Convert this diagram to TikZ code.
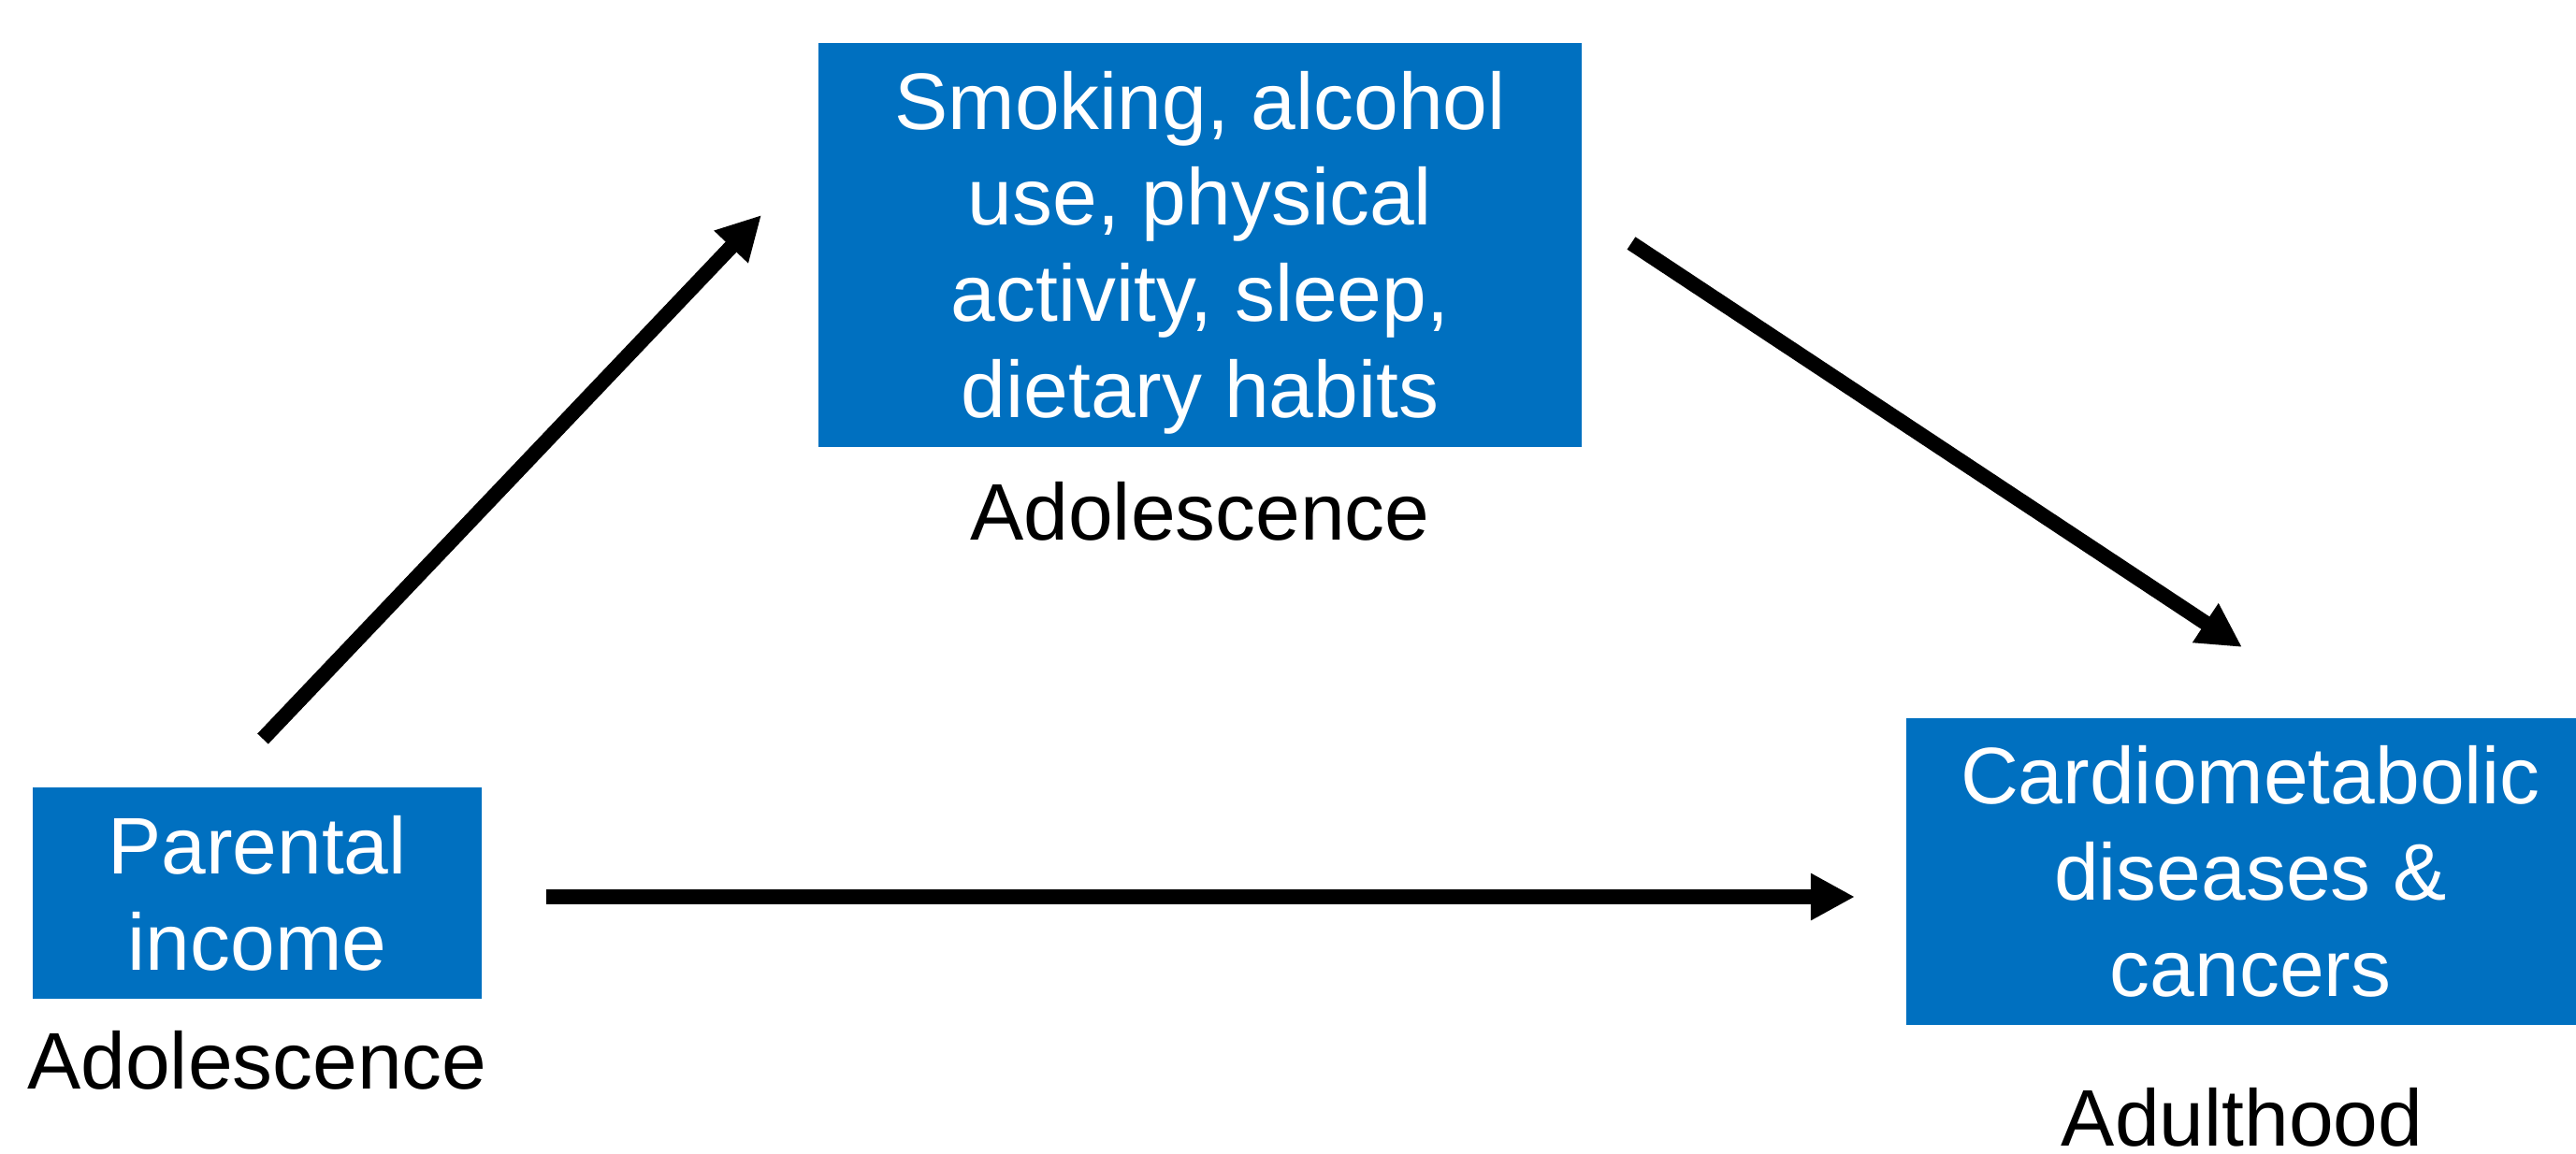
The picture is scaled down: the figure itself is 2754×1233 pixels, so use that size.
\documentclass[tikz,border=0pt]{standalone}
\usepackage{fontspec}
\setmainfont{Liberation Sans}
\usetikzlibrary{arrows.meta,positioning}
\definecolor{boxblue}{RGB}{0,112,192}

\begin{document}
\begin{tikzpicture}[x=0.01cm, y=-0.01cm,
txt/.style={font=\fontsize{24.4}{29.2}\selectfont, inner sep=0pt, align=center},
box/.style={txt, fill=boxblue, text=white},
link/.style={line width=0.16cm, -{Triangle[length=0.47cm, width=0.47cm]}}]
\useasboundingbox (0,0) rectangle (2754,1233);

\node [box, minimum width=4.80cm, minimum height=2.25cm] (income) at (275,955) {Parental\\income};
\node [box, minimum width=8.16cm, minimum height=4.31cm] (behav) at (1283,262) {\rule{0pt}{0.78cm}Smoking, alcohol\\use, physical\\activity, sleep,\\dietary habits};
\node [box, minimum width=7.36cm, minimum height=3.28cm] (cvd) at (2406,932) {Cardiometabolic\\diseases \&\\cancers};

\node [txt] (incomeage) [below=0.33cm of income] {Adolescence};
\node [txt] (behavage) [below=0.36cm of behav] {Adolescence};
\node [txt, xshift=-0.09cm] (cvdage) [below=0.66cm of cvd] {Adulthood};

\coordinate (s1) at (281,790);
\coordinate (t1) at (814,230);
\coordinate (s2) at (1744,260);
\coordinate (t2) at (2397,692);
\coordinate (s3) at (584,959);
\coordinate (t3) at (1983,959);

\draw [link] (s1) -- (t1);
\draw [link] (s2) -- (t2);
\draw [link] (s3) -- (t3);

\end{tikzpicture}
\end{document}
